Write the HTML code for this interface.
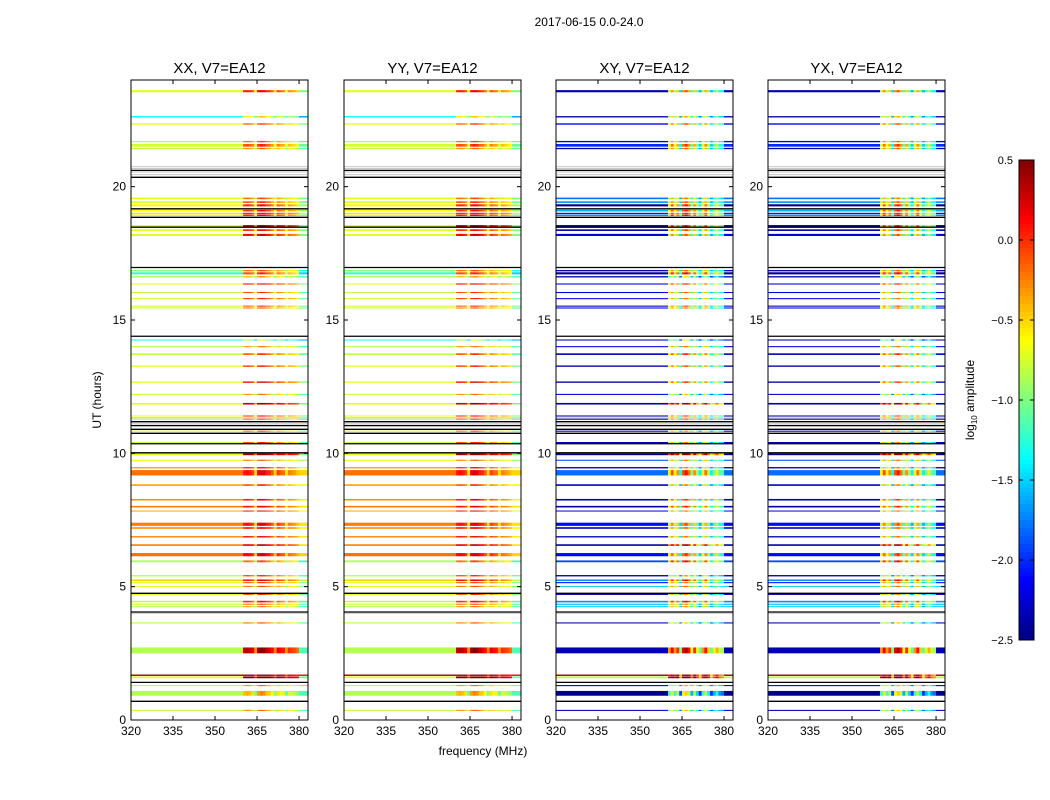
<!DOCTYPE html>
<html><head><meta charset="utf-8"><style>
body{margin:0;background:#fff;}
svg{display:block;font-family:"Liberation Sans",sans-serif;}
</style></head><body>
<svg id="chart" width="1050" height="800" viewBox="0 0 1050 800"></svg>
<script>
// rows: time (h), thickness (h), XX low-band, XX high-band, XY low-band, XY high-band (log10 amp); null = flagged
const rowTimes = [23.58,22.62,22.35,21.69,21.55,21.43,20.75,20.68,20.55,20.45,19.56,19.42,19.3,19.1,19.0,18.93,18.53,18.37,18.19,16.85,16.75,16.62,16.35,16.03,15.8,15.52,15.45,14.25,14.0,13.72,13.27,12.67,12.21,11.86,11.4,11.33,11.28,11.15,11.1,10.83,10.4,9.96,9.74,9.46,9.27,8.81,8.26,8.0,7.84,7.34,7.2,6.87,6.56,6.2,5.95,5.41,5.24,5.15,5.01,4.71,4.44,4.34,4.25,4.0,3.64,2.61,1.68,1.6,1.29,1.0,0.36];
const rowHeights = [.08,.05,.05,.05,.1,.05,.04,.04,.04,.04,.06,.06,.08,.06,.04,.06,.06,.06,.08,.05,.08,.05,.04,.04,.04,.04,.04,.04,.04,.06,.05,.05,.04,.06,.04,.04,.04,.04,.04,.04,.05,.06,.04,.05,.2,.06,.06,.06,.03,.12,.06,.05,.06,.12,.07,.05,.06,.04,.04,.04,.06,.04,.04,.04,.04,.22,.05,.07,.04,.18,.04];
const xxLow = [-0.7,-1.4,-0.7,-0.8,-0.75,-0.8,null,null,null,null,-0.7,-0.75,-0.6,-0.65,-0.5,-0.7,-0.7,-0.7,-0.7,-1.0,-1.2,-0.9,-0.7,-0.8,-0.75,-0.7,-0.8,-1.3,-0.85,-0.8,-0.7,-0.7,-0.8,-0.7,-0.7,null,-0.8,null,null,-0.7,-0.8,-0.7,-0.65,-0.35,-0.2,-0.35,-0.3,-0.25,-0.35,-0.25,-0.3,-0.25,-0.25,-0.2,-0.85,-0.8,-0.5,-0.7,-0.7,-0.7,-0.8,-0.8,-0.85,null,-0.85,-0.85,0.5,-0.7,-0.8,-0.85,-0.8];
const xxHigh = [-0.1,-0.7,-0.3,-0.35,-0.25,-0.45,null,null,null,null,-0.35,-0.25,-0.15,-0.15,0.0,-0.1,0.2,-0.1,0.0,-0.35,-0.25,-0.55,0.0,-0.25,-0.15,-0.25,-0.35,-1.0,-0.45,-0.25,-0.15,0.0,-0.45,0.2,-0.15,null,-0.35,null,null,-0.35,-0.25,0.3,-0.35,-0.15,-0.05,-0.25,-0.1,-0.05,-0.05,-0.05,-0.05,0.0,0.1,0.0,-0.35,-0.25,-0.05,-0.25,-0.35,-0.25,-0.15,-0.35,-0.45,0.1,-0.35,0.2,0.5,0.5,-0.45,-0.55,-0.45];
const xyLow = [-2.35,-2.4,-2.2,-2.3,-2.0,-2.35,null,null,null,null,-1.8,-1.7,-2.45,-1.6,-2.45,-1.7,-2.4,-2.45,-2.2,-2.3,-2.45,-2.35,-2.2,-2.2,-2.2,-2.3,-2.2,-2.3,-2.2,-2.35,-2.4,-2.4,-2.2,-2.4,-2.35,null,-2.4,null,null,-2.3,-2.35,-2.45,-1.9,-2.4,-1.8,-2.3,-2.35,-2.4,-2.2,-2.1,-2.3,-2.35,-2.4,-2.1,-1.9,-2.4,-1.7,-2.1,-1.5,-2.35,-1.7,-1.6,-1.5,null,-2.4,-2.35,0.5,-0.8,-2.3,-2.45,-2.3];
const xyHigh = [-0.6,-0.8,-0.5,-0.6,-0.5,-0.6,null,null,null,null,-0.7,-0.6,-0.4,-0.4,-0.3,-0.3,-0.3,-0.5,-0.6,-0.6,-0.3,-1.0,-0.3,-0.6,-0.6,-0.5,-0.6,-1.1,-0.6,-0.4,-0.5,-0.4,-0.9,0.1,-0.5,null,-0.6,null,null,-0.7,-0.7,0.2,-0.6,-0.7,-0.4,-0.7,-0.5,-0.4,-0.6,-0.6,-0.6,-0.6,0.0,-0.5,-0.3,-0.8,-0.3,-0.6,-0.6,-0.7,-0.3,-0.7,-0.7,0.2,-0.9,-0.1,0.5,0.5,-0.8,-1.0,-0.9];
// spectral structure of the 360-380 MHz band (offsets per MHz)
const xxMod = [0.1,0.15,0.1,0.0,-0.5,0.2,0.3,0.25,0.1,0.05,-0.1,-0.45,0.0,-0.1,-0.15,-0.5,-0.2,-0.25,-0.3,-0.4];
const xyMod = [-0.2,0.3,-0.2,0.1,-0.9,0.3,0.5,0.2,-0.6,0.1,-0.5,-1.0,-0.2,0.2,-0.4,-1.0,-0.6,-0.3,-0.7,-0.8];
const flagLines = [20.61,20.35,19.17,18.85,18.48,16.97,14.39,11.19,11.04,10.9,10.75,10.36,10.02,4.75,4.05,1.41,0.7];
const panelTitles = ["XX, V7=EA12","YY, V7=EA12","XY, V7=EA12","YX, V7=EA12"];
const xTicks = [320,335,350,365,380];
const yTicks = [0,5,10,15,20];
const cbTicks = [0.5,0.0,-0.5,-1.0,-1.5,-2.0,-2.5];

const NS="http://www.w3.org/2000/svg";
const svg=document.getElementById('chart');
function mk(tag,attrs,parent){const e=document.createElementNS(NS,tag);for(const k in attrs)e.setAttribute(k,attrs[k]);(parent||svg).appendChild(e);return e;}
const VMIN=-2.5,VMAX=0.5;
function jet(v){let t=(v-VMIN)/(VMAX-VMIN);t=Math.max(0,Math.min(1,t));
 const f=(x)=>Math.max(0,Math.min(1,x));
 const r=f(Math.min(4*t-1.5,-4*t+4.5)),g=f(Math.min(4*t-0.5,-4*t+3.5)),b=f(Math.min(4*t+0.5,-4*t+2.5));
 return `rgb(${Math.round(r*255)},${Math.round(g*255)},${Math.round(b*255)})`;}
const panelLefts=[131,344,556,768], PW=177, PT=80, PB=720;
const FMIN=320,FMAX=383.2,TMIN=0,TMAX=24;
const BAND0=360,BAND1=380;
function xs(i,f){return panelLefts[i]+(f-FMIN)/(FMAX-FMIN)*PW;}
function ys(t){return PB-(t-TMIN)/(TMAX-TMIN)*(PB-PT);}

let st=mk('text',{x:589,y:26,'font-size':12,'text-anchor':'middle'});
st.textContent="2017-06-15 0.0-24.0";

for(let p=0;p<4;p++){
 const g=mk('g',{});
 
 
 const cross=p>=2;
 const lowArr=cross?xyLow:xxLow, highArr=cross?xyHigh:xxHigh, mod=cross?xyMod:xxMod;
 for(let r=0;r<rowTimes.length;r++){
  const y0=ys(rowTimes[r]+rowHeights[r]/2), h=Math.max(1,ys(rowTimes[r]-rowHeights[r]/2)-y0);
  const lo=lowArr[r], hi=highArr[r];
  if(lo===null){
   const rr=mk('rect',{x:panelLefts[p],y:y0,width:PW,height:h,fill:'#c8c8c8'},g);
   
   continue;
  }
  const lr=mk('rect',{x:xs(p,FMIN),y:y0,width:xs(p,BAND0)-xs(p,FMIN),height:h,fill:jet(lo)},g);
  
  for(let k=0;k<mod.length;k++){
   const f=BAND0+k;
   const c=mk('rect',{x:xs(p,f),y:y0,width:xs(p,f+1)-xs(p,f)+0.3,height:h,fill:jet(hi+mod[k])},g);
   
  }
  const er=mk('rect',{x:xs(p,BAND1),y:y0,width:xs(p,FMAX)-xs(p,BAND1),height:h,fill:jet(cross?lo:lo-0.3)},g);
  
 }
 for(const t of flagLines){
  const l=mk('line',{x1:panelLefts[p],x2:panelLefts[p]+PW,y1:ys(t),y2:ys(t),stroke:'#000','stroke-width':1.3},g);
  
 }
 const fr=mk('rect',{x:panelLefts[p],y:PT,width:PW,height:PB-PT,fill:'none',stroke:'#000','stroke-width':1},g);
 
 const tt=mk('text',{x:panelLefts[p]+PW/2,y:73,'font-size':15,'text-anchor':'middle'},g);
 tt.textContent=panelTitles[p];
 for(const f of xTicks){
  const x=xs(p,f);
  mk('line',{x1:x,x2:x,y1:PB,y2:PB-4,stroke:'#000'},g);
  mk('line',{x1:x,x2:x,y1:PT,y2:PT+4,stroke:'#000'},g);
  const tl=mk('text',{x:x,y:PB+15,'font-size':12,'text-anchor':'middle'},g);
  tl.textContent=f;
 }
 for(const t of yTicks){
  const y=ys(t);
  mk('line',{x1:panelLefts[p],x2:panelLefts[p]+4,y1:y,y2:y,stroke:'#000'},g);
  mk('line',{x1:panelLefts[p]+PW,x2:panelLefts[p]+PW-4,y1:y,y2:y,stroke:'#000'},g);
  const tl=mk('text',{x:panelLefts[p]-5,y:y+4,'font-size':12,'text-anchor':'end'},g);
  tl.textContent=t;
 }
}
let xl=mk('text',{x:483,y:755,'font-size':12,'text-anchor':'middle'});
xl.textContent="frequency (MHz)";
let yl=mk('text',{x:101,y:400,'font-size':12,'text-anchor':'middle',transform:'rotate(-90 101 400)'});
yl.textContent="UT (hours)";

// colorbar
const cb=mk('g',{});

const CBX=1019,CBW=15,CBT=160,CBB=640;
const N=120;
for(let i=0;i<N;i++){
 const v=VMAX-(i+0.5)/N*(VMAX-VMIN);
 mk('rect',{x:CBX,y:CBT+i*(CBB-CBT)/N,width:CBW,height:(CBB-CBT)/N+0.5,fill:jet(v)},cb);
}
mk('rect',{x:CBX,y:CBT,width:CBW,height:CBB-CBT,fill:'none',stroke:'#000'},cb);
for(const v of cbTicks){
 const y=CBT+(VMAX-v)/(VMAX-VMIN)*(CBB-CBT);
 mk('line',{x1:CBX+CBW-4,x2:CBX+CBW,y1:y,y2:y,stroke:'#000'},cb);
 mk('line',{x1:CBX,x2:CBX+4,y1:y,y2:y,stroke:'#000'},cb);
 const tl=mk('text',{x:CBX-6,y:y+4,'font-size':11,'text-anchor':'end'},cb);
 
 tl.textContent=(v<0?'\u2212':'')+Math.abs(v).toFixed(1);
}
let cl=mk('text',{x:974,y:400,'font-size':12,'text-anchor':'middle',transform:'rotate(-90 974 400)'});

cl.innerHTML='log<tspan font-size="8" dy="3">10</tspan><tspan dy="-3"> amplitude</tspan>';
</script>
</body></html>
